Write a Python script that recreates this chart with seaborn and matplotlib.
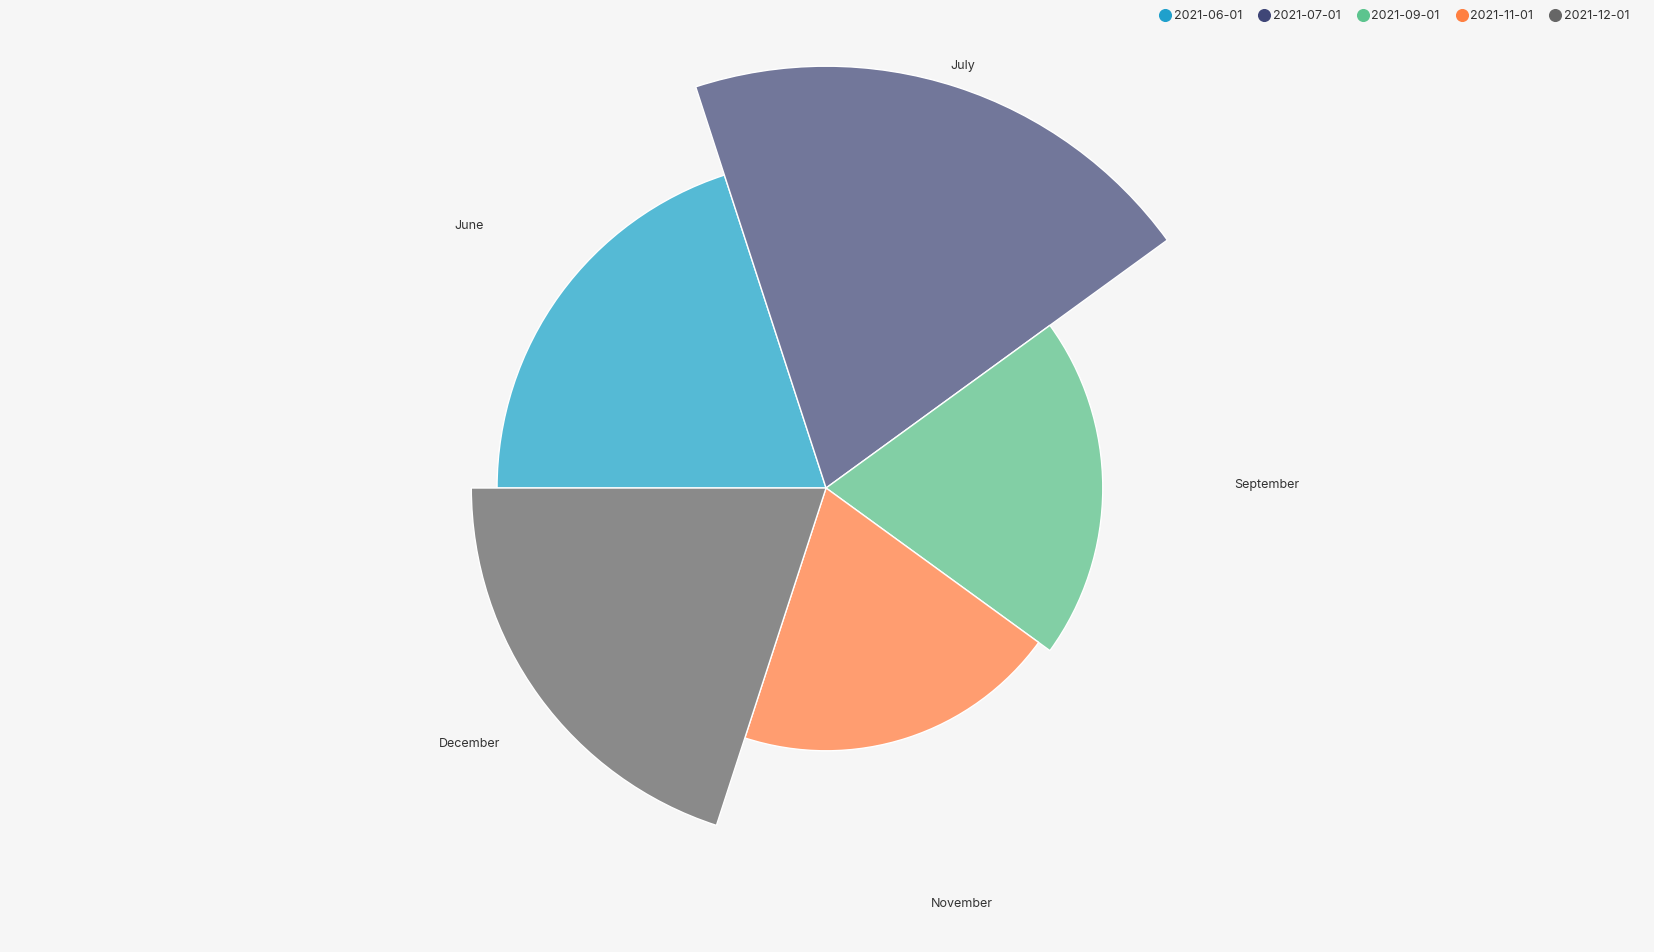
import numpy as np
import matplotlib
matplotlib.use('Agg')
import matplotlib.pyplot as plt
import matplotlib.transforms as mtransforms
from matplotlib.lines import Line2D
import seaborn as sns

months = ['June', 'July', 'September', 'November', 'December']
dates = ['2021-06-01', '2021-07-01', '2021-09-01', '2021-11-01', '2021-12-01']
values = [78, 100, 65.6, 62.3, 84.1]

slice_colors = ['#55BAD5', '#72779A', '#82CFA5', '#FF9D70', '#8A8A8A']
legend_colors = ['#1FA0CC', '#3F4677', '#5CC48E', '#FF7F40', '#666666']

sns.set_style('white')
plt.rcParams['font.family'] = ['Inter', 'DejaVu Sans']

bg = '#F6F6F6'
fig = plt.figure(figsize=(16.54, 9.52), dpi=100, facecolor=bg)

rmax = 110
ax = fig.add_axes([0.2189, 0.0, 928 / 1654, 928 / 952], projection='polar')
ax.set_facecolor('none')
ax.set_theta_offset(np.pi)
ax.set_theta_direction(-1)

n = len(values)
width = 2 * np.pi / n
theta = np.arange(n) * width + width / 2
ax.bar(theta, values, width=width, color=slice_colors, edgecolor='white', linewidth=1)

# month labels sit on a fixed ring outside the slices
label_r = 104.5
shift = ax.transData + mtransforms.ScaledTranslation(0, 3 / 100, fig.dpi_scale_trans)
for t, m in zip(theta, months):
    ax.text(t, label_r, m, ha='center', va='center', fontsize=9, color='#333333',
            transform=shift)

ax.set_ylim(0, rmax)
ax.grid(False)
ax.set_xticks([])
ax.set_yticks([])
ax.spines['polar'].set_visible(False)

handles = [Line2D([], [], marker='o', linestyle='none', markersize=8.4,
                  markerfacecolor=c, markeredgecolor=c) for c in legend_colors]
fig.legend(handles, dates, loc='upper right', bbox_to_anchor=(0.992, 1.001), ncol=5,
           frameon=False, fontsize=9, handlelength=1.0, handletextpad=0.2,
           columnspacing=1.25, labelcolor='#333333')

fig.savefig('out.png', dpi=100, facecolor=bg)
